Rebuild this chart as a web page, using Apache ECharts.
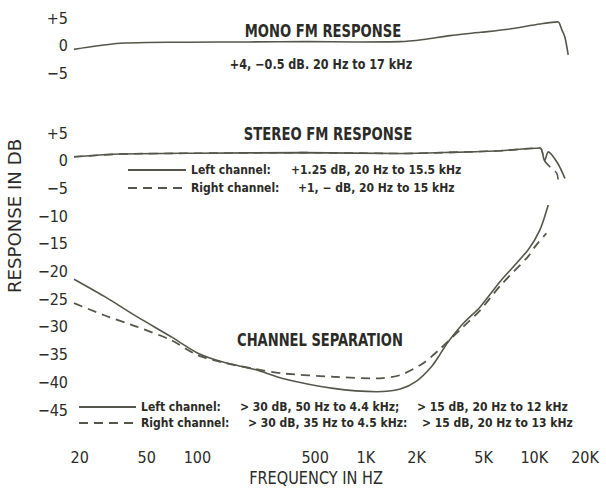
<!DOCTYPE html>
<html><head><meta charset="utf-8">
<script src="https://cdn.jsdelivr.net/npm/echarts@6/dist/echarts.min.js"></script>
<style>html,body{margin:0;padding:0;background:#fff}#c{width:606px;height:488px}</style>
</head><body><div id="c"></div>
<script>
// ---- tick labels ----
const xTickFreqs = [20, 50, 100, 500, 1000, 2000, 5000, 10000, 20000];
const xTickLabels = ['20', '50', '100', '500', '1K', '2K', '5K', '10K', '20K'];
const yTicksTop = [-5, 0, 5];
const yTicksBottom = [5, 0, -5, -10, -15, -20, -25, -30, -35, -40, -45];

// ---- Mono FM response (Hz, dB) ----
const monoFreq = [18.5, 25, 35, 50, 90, 200, 450, 900, 1600, 2200, 3150, 4800, 6800, 10800, 13800, 14600, 15200, 15900];
const monoDb   = [-0.7, -0.1, 0.4, 0.55, 0.6, 0.65, 0.7, 0.65, 0.7, 1.1, 1.8, 2.4, 2.9, 3.9, 4.3, 2.8, 1.5, -1.7];

// ---- Stereo FM response ----
const stereoLeftFreq = [18.5, 35, 100, 430, 1600, 3150, 6300, 10800, 11500, 12100, 13800, 15200];
const stereoLeftDb   = [0.7, 1.2, 1.35, 1.45, 1.3, 1.5, 1.8, 2.3, 0.0, 1.6, -0.5, -3.2];
const stereoRightFreq = [18.5, 35, 100, 430, 1600, 3150, 6300, 10800, 11500, 12100, 13600, 13900];
const stereoRightDb   = [0.7, 1.2, 1.35, 1.45, 1.3, 1.5, 1.8, 2.3, 0.0, -0.8, -2.3, -3.8];

// ---- Channel separation ----
const sepLeftFreq = [18.5, 28, 44, 70, 100, 140, 220, 320, 640, 1160, 1600, 2000, 2450, 2750, 3030, 3780, 4770, 6270, 9180, 10800, 12100];
const sepLeftDb   = [-21.4, -24.5, -28.2, -31.8, -34.7, -36.3, -37.7, -39.3, -41.1, -41.7, -41.2, -39.8, -37.2, -35.0, -33.0, -29.4, -26.4, -21.8, -16.1, -12.5, -8.0];
const sepRightFreq = [18.5, 28, 44, 70, 100, 140, 220, 320, 640, 1160, 1600, 2180, 2750, 3780, 4770, 6270, 9180, 10100, 11800];
const sepRightDb   = [-25.7, -27.9, -30.0, -32.4, -35.1, -36.4, -37.6, -38.4, -39.0, -39.3, -38.7, -36.6, -34.0, -30.0, -27.0, -22.6, -17.3, -15.5, -13.1];

const FONT = '"Liberation Sans Narrow","DejaVu Sans Condensed","Liberation Sans",sans-serif';
const TXT = '#2b2b27';
const LINE = '#55564b';
const lg = Math.log10;
const pts = (f, d) => f.map((v, i) => [lg(v), d[i]]);
const yFmt = v => v > 0 ? '+' + v : (v < 0 ? '\u2212' + Math.abs(v) : '0');
const xFmt = v => {
  let best = 0;
  xTickFreqs.forEach((f, i) => { if (Math.abs(lg(f) - v) < Math.abs(lg(xTickFreqs[best]) - v)) best = i; });
  return xTickLabels[best];
};

const chart = echarts.init(document.getElementById('c'), null, {renderer: 'svg'});
const xBase = {
  type: 'value', min: lg(18.5), max: lg(20000),
  axisLine: {show: false}, axisTick: {show: false}, splitLine: {show: false}
};
const yLabel = {color: TXT, fontFamily: FONT, fontSize: 16, margin: 6, formatter: yFmt};
const lineS = (name, xi, f, d, dashed, w) => ({
  name, type: 'line', xAxisIndex: xi, yAxisIndex: xi, data: pts(f, d),
  symbol: 'none', smooth: 0.25, silent: true,
  lineStyle: {color: LINE, width: w || 1.6, type: dashed ? [9, 6] : 'solid'},
  itemStyle: {color: LINE}
});
const rich = (w, lh) => ({fontFamily: FONT, fontSize: 12, fontWeight: 'bold', color: TXT, width: w, lineHeight: lh});
const txt = (text, x, y, font, sx, extra) => Object.assign({
  type: 'text', x, y, scaleX: sx,
  style: {text, font: font + ' ' + FONT, fill: TXT, textAlign: 'center', textVerticalAlign: 'middle'}
}, extra || {});

chart.setOption({
  animation: false,
  backgroundColor: '#ffffff',
  grid: [
    {left: 74, right: 21, top: 18, height: 55},
    {left: 74, right: 21, top: 133, height: 277}
  ],
  xAxis: [
    Object.assign({}, xBase, {gridIndex: 0, axisLabel: {show: false}}),
    Object.assign({}, xBase, {gridIndex: 1, axisLabel: {
      color: TXT, fontFamily: FONT, fontSize: 16, margin: 39,
      customValues: xTickFreqs.map(lg), formatter: xFmt, showMinLabel: true, showMaxLabel: true}})
  ],
  yAxis: [
    {type: 'value', gridIndex: 0, min: -5, max: 5, interval: 5,
     axisLine: {show: false}, axisTick: {show: false}, splitLine: {show: false},
     axisLabel: Object.assign({customValues: yTicksTop}, yLabel)},
    {type: 'value', gridIndex: 1, min: -45, max: 5, interval: 5,
     axisLine: {show: false}, axisTick: {show: false}, splitLine: {show: false},
     axisLabel: Object.assign({customValues: yTicksBottom}, yLabel)}
  ],
  legend: [
    {data: ['stereoL', 'stereoR'], orient: 'vertical', left: 122, top: 159,
     itemWidth: 58, itemHeight: 12, itemGap: 6, selectedMode: false,
     itemStyle: {opacity: 0},
     formatter: n => n === 'stereoL' ? '{a|Left channel:}{b|+1.25 dB, 20 Hz to 15.5 kHz}'
                                     : '{c|Right channel:}{b|+1, \u2212 dB, 20 Hz to 15 kHz}',
     textStyle: {fontFamily: FONT, fontSize: 12, color: TXT, lineHeight: 12,
       rich: {a: rich(100, 12), c: rich(107, 12), b: rich(null, 12)}}},
    {data: ['sepL', 'sepR'], orient: 'vertical', left: 73, top: 396,
     itemWidth: 57, itemHeight: 11, itemGap: 4, selectedMode: false,
     itemStyle: {opacity: 0},
     formatter: n => n === 'sepL' ? '{a|Left channel:}{b|> 30 dB, 50 Hz to 4.4 kHz;}{e|> 15 dB, 20 Hz to 12 kHz}'
                                  : '{c|Right channel:}{d|> 30 dB, 35 Hz to 4.5 kHz:}{e|> 15 dB, 20 Hz to 13 kHz}',
     textStyle: {fontFamily: FONT, fontSize: 12, color: TXT, lineHeight: 11,
       rich: {a: rich(99, 11), c: rich(107, 11), b: rich(177, 11), d: rich(174, 11), e: rich(null, 11)}}}
  ],
  graphic: [
    txt('MONO FM RESPONSE', 323, 31, 'bold 17px', 0.86),
    txt('+4, \u22120.5 dB. 20 Hz to 17 kHz', 321, 64, 'bold 14px', 0.89),
    txt('STEREO FM RESPONSE', 328, 134, 'bold 17px', 0.865),
    txt('CHANNEL SEPARATION', 320, 340, 'bold 17px', 0.855),
    txt('FREQUENCY IN HZ', 316, 478, '17px', 0.95),
    txt('RESPONSE IN DB', 15, 216, '18px', 1.12, {rotation: Math.PI / 2})
  ],
  series: [
    lineS('mono', 0, monoFreq, monoDb, false, 1.6),
    lineS('stereoL', 1, stereoLeftFreq, stereoLeftDb, false, 1.6),
    lineS('stereoR', 1, stereoRightFreq, stereoRightDb, true, 1.6),
    lineS('sepL', 1, sepLeftFreq, sepLeftDb, false, 1.6),
    lineS('sepR', 1, sepRightFreq, sepRightDb, true, 1.8)
  ]
});
</script></body></html>
